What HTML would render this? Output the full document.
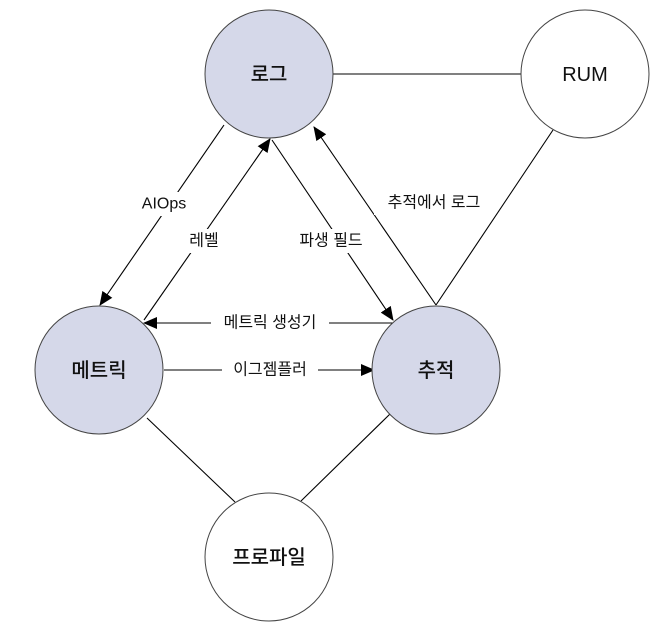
<!DOCTYPE html>
<html><head><meta charset="utf-8"><style>
html,body{margin:0;padding:0;background:#fff;}
svg{display:block;}
text{font-family:"Liberation Sans","Noto Sans CJK KR",sans-serif;fill:#111;}
.n{font-size:20px;text-anchor:middle;dominant-baseline:central;font-weight:500;}
.l{font-size:16px;text-anchor:middle;dominant-baseline:central;}
</style></head><body>
<svg width="666" height="630" viewBox="0 0 666 630" xmlns="http://www.w3.org/2000/svg">
<defs>
<marker id="a" markerWidth="14" markerHeight="12" refX="13" refY="6" orient="auto" markerUnits="userSpaceOnUse">
<path d="M0,0 L14,6 L0,12 z" fill="#000"/>
</marker>
</defs>
<g stroke="#000" stroke-width="1.1" fill="none">
<line x1="333" y1="74" x2="521" y2="74"/>
<line x1="553" y1="130" x2="436" y2="305"/>
<line x1="224" y1="125" x2="100" y2="305" marker-end="url(#a)"/>
<line x1="144" y1="320" x2="270" y2="139" marker-end="url(#a)"/>
<line x1="272" y1="140" x2="393" y2="320" marker-end="url(#a)"/>
<line x1="436" y1="305" x2="314" y2="127" marker-end="url(#a)"/>
<line x1="393" y1="323" x2="144" y2="323" marker-end="url(#a)"/>
<line x1="164" y1="370" x2="374" y2="370" marker-end="url(#a)"/>
<line x1="147" y1="418" x2="235" y2="502"/>
<line x1="390" y1="414" x2="301" y2="501"/>
</g>
<g stroke="#444" stroke-width="1">
<circle cx="269" cy="74" r="64" fill="#d5d8e9"/>
<circle cx="585" cy="74" r="64" fill="#fff"/>
<circle cx="99" cy="370" r="64" fill="#d5d8e9"/>
<circle cx="436" cy="370" r="64" fill="#d5d8e9"/>
<circle cx="269" cy="557" r="64" fill="#fff"/>
</g>
<text class="n" x="269" y="75">로그</text>
<text class="n" x="585" y="75">RUM</text>
<text class="n" x="99" y="371">메트릭</text>
<text class="n" x="436" y="371">추적</text>
<text class="n" x="269" y="558">프로파일</text>
<g fill="#fff">
<rect x="134" y="192" width="60" height="24"/>
<rect x="182" y="229" width="44" height="24"/>
<rect x="290" y="229" width="82" height="24"/>
<rect x="374" y="191" width="120" height="24"/>
<rect x="211" y="312" width="118" height="23"/>
<rect x="222" y="359" width="96" height="23"/>
</g>
<text class="l" x="164" y="204">AIOps</text>
<text class="l" x="204" y="241">레벨</text>
<text class="l" x="331" y="241">파생 필드</text>
<text class="l" x="434" y="203">추적에서 로그</text>
<text class="l" x="270" y="323">메트릭 생성기</text>
<text class="l" x="270" y="370">이그젬플러</text>
</svg>
</body></html>
